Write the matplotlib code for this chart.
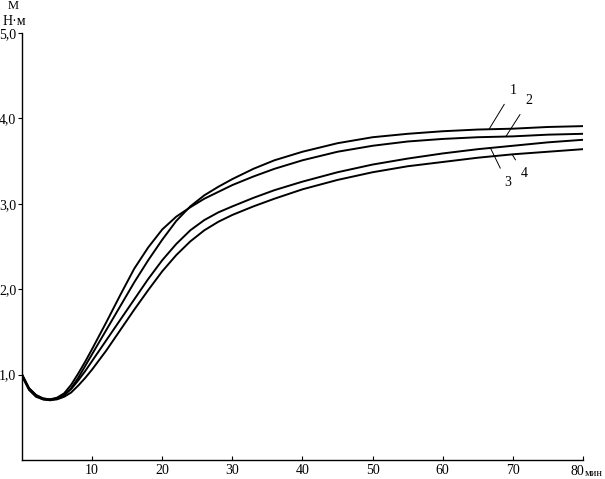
import matplotlib
matplotlib.use('Agg')
import matplotlib.pyplot as plt
import numpy as np

# time, minutes
t = [0, 1, 2, 3, 4, 5, 6, 7, 8, 9, 10, 12, 14, 16, 18, 20, 22, 24, 26, 28,
     30, 33, 36, 40, 45, 50, 55, 60, 65, 70, 75, 80]

# torque M, N*m
m1 = [1.00, 0.84, 0.76, 0.72, 0.71, 0.72, 0.76, 0.84, 0.96, 1.10, 1.24, 1.52,
      1.80, 2.08, 2.34, 2.58, 2.80, 2.97, 3.10, 3.20, 3.29, 3.41, 3.51, 3.61,
      3.71, 3.78, 3.82, 3.85, 3.87, 3.88, 3.90, 3.91]
m2 = [1.00, 0.84, 0.76, 0.72, 0.71, 0.73, 0.78, 0.88, 1.01, 1.15, 1.30, 1.61,
      1.93, 2.24, 2.49, 2.70, 2.85, 2.96, 3.06, 3.14, 3.22, 3.32, 3.41, 3.51,
      3.61, 3.68, 3.73, 3.76, 3.78, 3.79, 3.81, 3.82]
m3 = [1.00, 0.83, 0.75, 0.71, 0.70, 0.72, 0.76, 0.83, 0.93, 1.04, 1.16, 1.40,
      1.64, 1.88, 2.12, 2.34, 2.53, 2.69, 2.81, 2.90, 2.97, 3.07, 3.16, 3.26,
      3.37, 3.46, 3.53, 3.59, 3.64, 3.68, 3.72, 3.75]
m4 = [0.98, 0.82, 0.74, 0.71, 0.70, 0.71, 0.74, 0.79, 0.87, 0.96, 1.06, 1.28,
      1.52, 1.76, 1.99, 2.21, 2.40, 2.56, 2.69, 2.79, 2.87, 2.97, 3.06, 3.17,
      3.28, 3.37, 3.44, 3.49, 3.54, 3.58, 3.61, 3.64]

curve_labels = ['1', '2', '3', '4']
xticks = [10, 20, 30, 40, 50, 60, 70, 80]
yticks = [1, 2, 3, 4, 5]
ytick_labels = ['1,0', '2,0', '3,0', '4,0', '5,0']


def main() -> None:
    plt.rcParams['font.family'] = ['Liberation Serif', 'DejaVu Serif']
    fig = plt.figure(figsize=(6.05, 4.79), dpi=100)
    ax = fig.add_axes([0.0364, 0.0397, 0.9272, 0.8913])

    curves = [m1, m2, m3, m4]
    for m in curves:
        ax.plot(t, m, color='black', lw=1.4, solid_capstyle='round',
                solid_joinstyle='round')

    ax.set_xlim(0, 80)
    ax.set_ylim(0, 5)
    for side in ('top', 'right'):
        ax.spines[side].set_visible(False)
    for side in ('left', 'bottom'):
        ax.spines[side].set_linewidth(1.0)

    ax.set_xticks(xticks)
    ax.set_xticklabels([str(v) for v in xticks[:-1]] + [''], fontsize=10)
    ax.set_yticks(yticks)
    ax.set_yticklabels(ytick_labels, fontsize=10)
    ax.tick_params(axis='x', direction='in', length=3, width=0.8, pad=3)
    ax.tick_params(axis='y', direction='out', length=3, width=0.8, pad=1)

    # last x label with units
    ax.text(80.15, -0.06, '80', ha='right', va='top', fontsize=10,
            clip_on=False)
    ax.text(80.2, -0.105, 'мин', ha='left', va='top', fontsize=7.5,
            clip_on=False)

    # y axis label
    fig.text(0.021, 1.0, 'М', ha='center', va='top', fontsize=9)
    fig.text(0.024, 0.968, 'Н·м', ha='center', va='top', fontsize=10)

    # leader lines with curve numbers
    label_pos = [(70.0, 4.33), (72.3, 4.21), (69.2, 3.25), (71.6, 3.35)]
    anchor_x = [66.6, 69.0, 66.8, 69.9]
    for lab, m, (tx, ty), ax_x in zip(curve_labels, curves, label_pos, anchor_x):
        ay = np.interp(ax_x, t, m)
        ax.annotate(lab, xy=(ax_x, ay), xytext=(tx, ty), fontsize=10,
                    ha='center', va='center',
                    arrowprops=dict(arrowstyle='-', lw=0.7, color='black',
                                    shrinkA=4, shrinkB=0))

    fig.savefig('out.png', dpi=100)


if __name__ == '__main__':
    main()
